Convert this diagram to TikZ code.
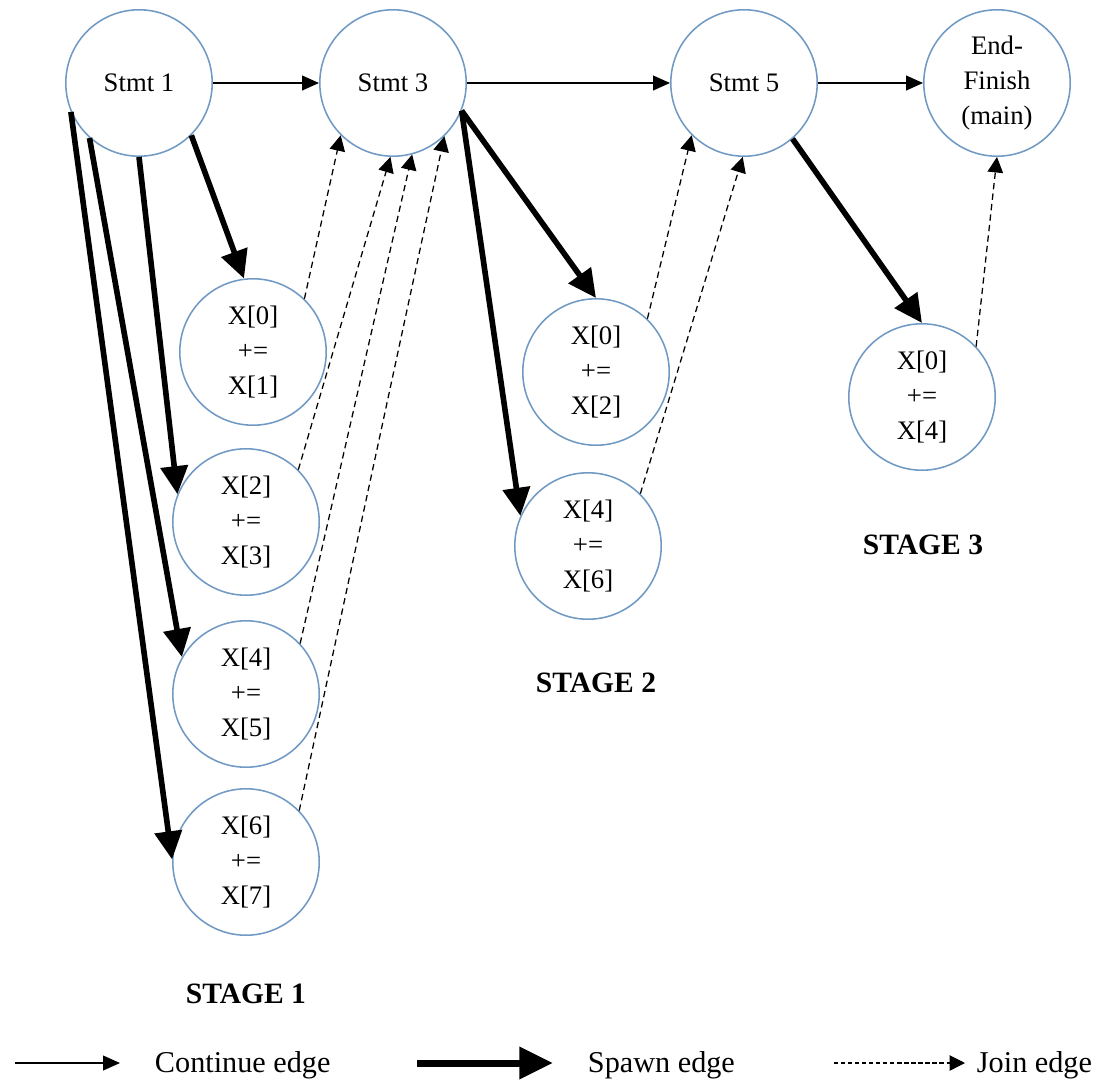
\documentclass[tikz,border=0pt]{standalone}
\usepackage{fontspec}
\setmainfont{Liberation Serif}
\usetikzlibrary{arrows.meta}
\definecolor{nodeblue}{RGB}{112,154,196}

\begin{document}
\begin{tikzpicture}[
  x=0.025cm, y=-0.025cm,
  font=\fontsize{19}{25}\selectfont,
  stmt/.style={circle, draw=nodeblue, line width=1.1pt, fill=white,
               minimum size=3.66cm, inner sep=0pt, align=center},
  stage/.style={font=\fontsize{21}{25}\selectfont\bfseries},
  legend/.style={font=\fontsize{21.5}{26}\selectfont, anchor=west},
  cont/.style={-{Triangle[length=12pt,width=10.5pt]}, line width=1pt},
  spawn/.style={-{Triangle[length=20pt,width=19pt]}, line width=4pt},
  joinedge/.style={-{Triangle[length=11pt,width=11pt]}, line width=0.9pt,
               dash pattern=on 4.5pt off 3pt},
]
\useasboundingbox (0,0) rectangle (1108,1084);
% Main statements
\node[stmt] (s1)  at (139,83) {Stmt 1};
\node[stmt] (s3)  at (393,83) {Stmt 3};
\node[stmt] (s5)  at (744,83) {Stmt 5};
\node[stmt] (fin) at (997,83) {End-\\Finish\\(main)};
% Stage 1
\node[stmt] (a01) at (253,352) {X[0]\\+=\\ X[1]};
\node[stmt] (a23) at (246,522) {X[2]\\+=\\ X[3]};
\node[stmt] (a45) at (246,694) {X[4]\\+=\\ X[5]};
\node[stmt] (a67) at (246,862) {X[6]\\+=\\ X[7]};
% Stage 2
\node[stmt] (b02) at (596,372) {X[0]\\+=\\ X[2]};
\node[stmt] (b46) at (588,546) {X[4]\\+=\\ X[6]};
% Stage 3
\node[stmt] (c04) at (922,397) {X[0]\\+=\\ X[4]};
% Stage labels
\node[stage] (st1) at (246,994) {STAGE 1};
\node[stage] (st2) at (596,683) {STAGE 2};
\node[stage] (st3) at (923,545) {STAGE 3};
% Continue edges
\draw[cont] (s1) -- (s3);
\draw[cont] (s3) -- (s5);
\draw[cont] (s5) -- (fin);
% Spawn edges
\draw[spawn] (s1.-45)  -- (a01.97);
\draw[spawn] (s1.-90)  -- (a23.158);
\draw[spawn] (s1.-132) -- (a45.150);
\draw[spawn] (s1.-157) -- (a67.178);
\draw[spawn] (s3.-22)  -- (b02.north);
\draw[spawn] (s3.-22)  -- (b46.156);
\draw[spawn] (s5.-49)  -- (c04.north);
% Join edges
\draw[joinedge] (a01.46) -- (s3.-135);
\draw[joinedge] (a23.45) -- (s3.-92);
\draw[joinedge] (a45.43) -- (s3.-75);
\draw[joinedge] (a67.44) -- (s3.-46);
\draw[joinedge] (b02.46) -- (s5.-135);
\draw[joinedge] (b46.45) -- (s5.-91);
\draw[joinedge] (c04.43) -- (fin.south);
% Legend
\coordinate (lc0) at (15,1063);  \coordinate (lc1) at (120,1063);
\coordinate (ls0) at (417,1063); \coordinate (ls1) at (553,1063);
\coordinate (lj0) at (834,1063); \coordinate (lj1) at (965,1063);
\draw[cont] (lc0) -- (lc1);
\draw[spawn, line width=5pt, -{Triangle[length=24pt,width=22pt]}] (ls0) -- (ls1);
\draw[joinedge, line width=0.8pt, dash pattern=on 3pt off 2pt] (lj0) -- (lj1);
\node[legend] (lgc) at (150,1065) {Continue edge};
\node[legend] (lgs) at (583,1065) {Spawn edge};
\node[legend] (lgj) at (972,1065) {Join edge};
\end{tikzpicture}
\end{document}
